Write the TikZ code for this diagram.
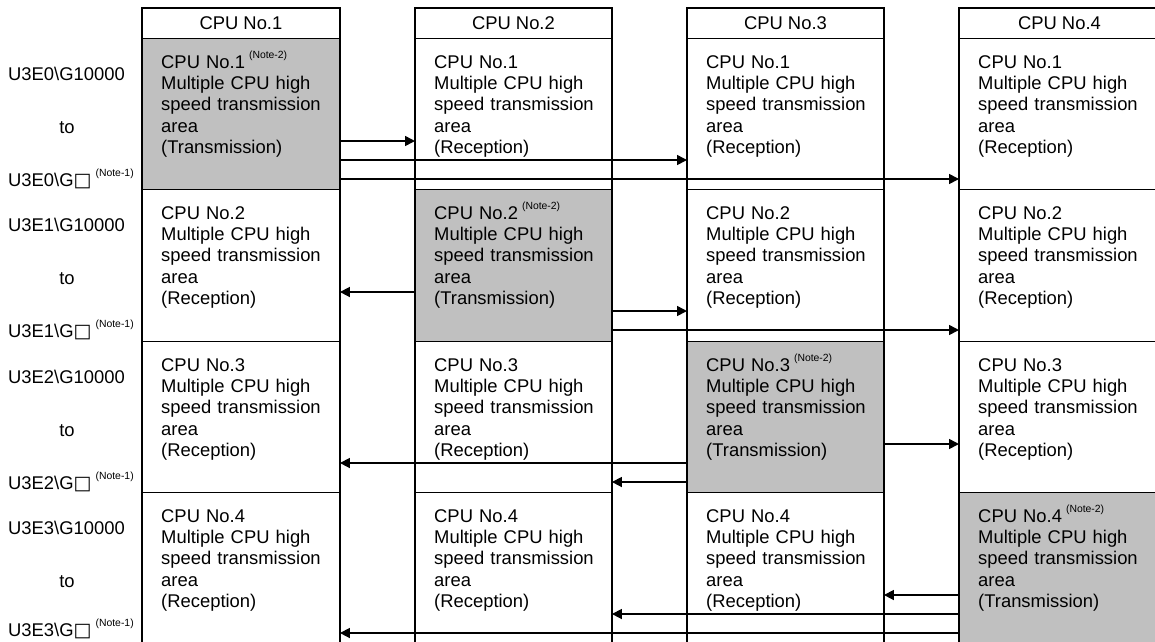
\documentclass[tikz,border=0pt]{standalone}
\usepackage{fontspec}
\setmainfont{Liberation Sans}
\newfontfamily\symfont{DejaVu Sans}
\usetikzlibrary{arrows.meta,calc}
\definecolor{txgray}{RGB}{192,192,192}
\newcommand{\notesup}[1]{\hspace{4pt}\raisebox{10pt}{\fontsize{10.4pt}{12pt}\selectfont(#1)}}
\newcommand{\wsq}{{\symfont\fontsize{19pt}{21pt}\selectfont □}}
\begin{document}
\begin{tikzpicture}[x=1pt,y=-1pt,
  cellbox/.style={draw=black,line width=0.9pt,inner sep=0pt,anchor=north west},
  headbox/.style={draw=black,line width=0.9pt,inner sep=0pt,anchor=north west,minimum height=30,font=\fontsize{18.4pt}{21.4pt}\selectfont},
  celltext/.style={inner sep=0pt,anchor=base west,text width=185pt,align=left,font=\fontsize{18.4pt}{21.4pt}\selectfont},
  lbl/.style={inner sep=0pt,font=\fontsize{18.4pt}{21.4pt}\selectfont},
  colframe/.style={draw=black,line width=1.8pt},
  sendline/.style={line width=1.6pt,-{Triangle[length=10pt,width=10pt]}}
]
\useasboundingbox (0,0) rectangle (1155,641);
\clip (0,0) rectangle (1155,641);
\fill[white] (0,0) rectangle (1155,641);
% cells and headers
\foreach \c/\L/\W in {1/142/197,2/415/196,3/687/196,4/959/200}{
  \node[headbox,minimum width=\W] (h\c) at (\L,8) {CPU No.\c};
  \foreach \r/\T/\H in {1/38/151,2/189/152,3/341/151,4/492/165}{
    \ifnum\c=\r \def\cellfill{txgray}\else\def\cellfill{white}\fi
    \node[cellbox,fill=\cellfill,minimum width=\W,minimum height=\H] (c\c r\r) at (\L,\T) {};
  }
}
% column frames
\foreach \c in {1,...,4}{
  \draw[colframe] (h\c.north west) rectangle (c\c r4.south east);
}
% transmission arrows
\draw[sendline] ($(c1r1.north east)+(0,103)$) -- ($(c2r1.north west)+(0,103)$);
\draw[sendline] ($(c1r1.north east)+(0,122)$) -- ($(c3r1.north west)+(0,122)$);
\draw[sendline] ($(c1r1.north east)+(0,141)$) -- ($(c4r1.north west)+(0,141)$);
\draw[sendline] ($(c2r2.north west)+(0,103)$) -- ($(c1r2.north east)+(0,103)$);
\draw[sendline] ($(c2r2.north east)+(0,122)$) -- ($(c3r2.north west)+(0,122)$);
\draw[sendline] ($(c2r2.north east)+(0,141)$) -- ($(c4r2.north west)+(0,141)$);
\draw[sendline] ($(c3r3.north east)+(0,103)$) -- ($(c4r3.north west)+(0,103)$);
\draw[sendline] ($(c3r3.north west)+(0,122)$) -- ($(c1r3.north east)+(0,122)$);
\draw[sendline] ($(c3r3.north west)+(0,141)$) -- ($(c2r3.north east)+(0,141)$);
\draw[sendline] ($(c4r4.north west)+(0,103)$) -- ($(c3r4.north east)+(0,103)$);
\draw[sendline] ($(c4r4.north west)+(0,122)$) -- ($(c2r4.north east)+(0,122)$);
\draw[sendline] ($(c4r4.north west)+(0,141)$) -- ($(c1r4.north east)+(0,141)$);
% cell texts
\foreach \c in {1,...,4}{
  \foreach \r in {1,...,4}{
    \ifnum\c=\r
      \node[celltext] (t\c r\r) at ($(c\c r\r.north west)+(19,30)$) {CPU No.\r\notesup{Note-2}\\Multiple CPU high\\speed transmission\\area\\(Transmission)};
    \else
      \node[celltext] (t\c r\r) at ($(c\c r\r.north west)+(19,30)$) {CPU No.\r\\Multiple CPU high\\speed transmission\\area\\(Reception)};
    \fi
  }
}
% device labels
\foreach \r/\T/\B in {1/38/148,2/189/148,3/341/148,4/492/144}{
  \pgfmathtruncatemacro{\uidx}{\r-1}
  \node[lbl,anchor=base west] (s\r) at (8,{\T+42}) {U3E\uidx\textbackslash G10000};
  \node[lbl,anchor=base] (m\r) at (67,{\T+95}) {to};
  \node[lbl,anchor=base west] (e\r) at (8,{\T+\B}) {U3E\uidx\textbackslash G\wsq\notesup{Note-1}};
}
\end{tikzpicture}
\end{document}
